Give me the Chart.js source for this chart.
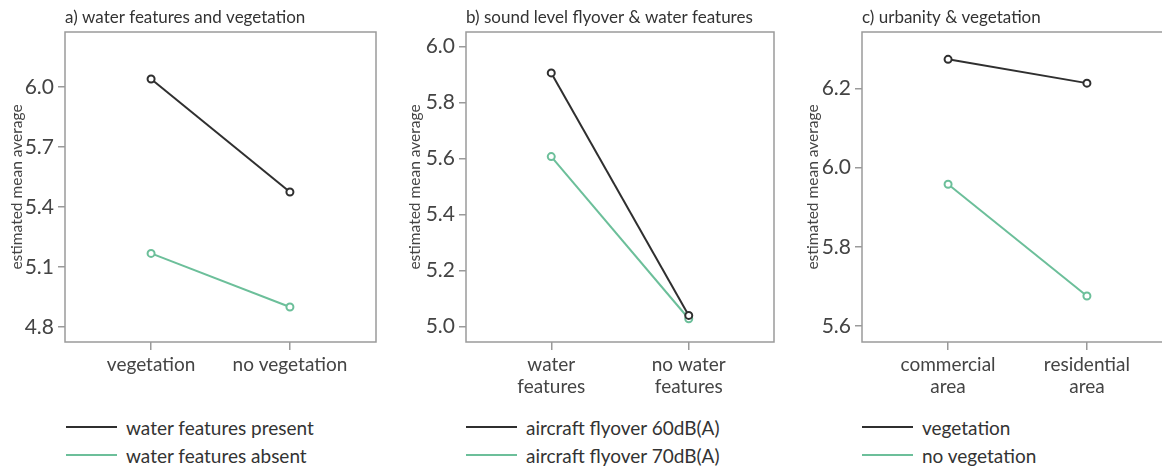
<!DOCTYPE html>
<html>
<head>
<meta charset="utf-8">
<script src="https://cdn.jsdelivr.net/npm/chart.js@4"></script>
<style>
  html, body { margin: 0; padding: 0; background: #fff; overflow: hidden; }
  body { width: 1162px; height: 468px; position: relative; font-family: Lato, sans-serif; }
  .panel { position: absolute; top: 0; height: 410px; }
  .legend { position: absolute; top: 413px; font-size: 19px; color: #333; }
  .legend .row { display: flex; align-items: center; height: 28px; }
  .legend .swatch { width: 51px; height: 2.5px; margin-right: 9px; }
</style>
</head>
<body>
  <div class="panel" style="left:0;width:390px"><canvas id="chartA"></canvas></div>
  <div class="panel" style="left:390px;width:390px"><canvas id="chartB"></canvas></div>
  <div class="panel" style="left:780px;width:410px"><canvas id="chartC"></canvas></div>
  <div class="legend" id="legendA" style="left:66px"></div>
  <div class="legend" id="legendB" style="left:466px"></div>
  <div class="legend" id="legendC" style="left:862px"></div>

<script>
// panel a) water features and vegetation
const catsA = ['vegetation', 'no vegetation'];
const presentA = [6.04, 5.475];
const absentA = [5.168, 4.90];
const ticksA = [4.8, 5.1, 5.4, 5.7, 6.0];

// panel b) sound level flyover & water features
const catsB = [['water', 'features'], ['no water', 'features']];
const flyover60 = [5.905, 5.039];
const flyover70 = [5.606, 5.027];
const ticksB = [5.0, 5.2, 5.4, 5.6, 5.8, 6.0];

// panel c) urbanity & vegetation
const catsC = [['commercial', 'area'], ['residential', 'area']];
const vegC = [6.273, 6.213];
const noVegC = [5.958, 5.676];
const ticksC = [5.6, 5.8, 6.0, 6.2];

const DARK = '#2f2f2f';
const GREEN = '#6cbf9a';
const AXIS = '#9a9a9a';
const FONT = 'Lato, sans-serif';

// title at the left edge of the plot + grey box round the plot
const frame = {
  id: 'frame',
  beforeDatasetsDraw(chart) {
    const { ctx, chartArea: a } = chart;
    ctx.save();
    ctx.strokeStyle = AXIS;
    ctx.lineWidth = 1.5;
    ctx.strokeRect(a.left, a.top, a.right - a.left, a.bottom - a.top);
    ctx.restore();
  },
  afterDraw(chart, args, opts) {
    const { ctx, chartArea: a } = chart;
    ctx.save();
    ctx.font = '17px ' + FONT;
    ctx.fillStyle = '#333';
    ctx.textBaseline = 'middle';
    ctx.fillText(opts.text, a.left, 18);
    ctx.restore();
  }
};

function toPoints(vals) {
  return vals.map((v, i) => ({ x: i, y: v }));
}

function makeChart(id, title, cats, series, yTicks, yMin, yMax, pad) {
  const datasets = series.map(s => ({
    label: s.label,
    data: toPoints(s.data),
    borderColor: s.color,
    backgroundColor: s.color,
    borderWidth: 2,
    pointRadius: 3.5,
    pointBorderWidth: 2,
    pointBackgroundColor: '#fff',
    pointBorderColor: s.color,
    fill: false
  }));

  new Chart(document.getElementById(id), {
    type: 'line',
    data: { datasets },
    options: {
      responsive: true,
      maintainAspectRatio: false,
      animation: false,
      layout: { padding: { left: pad.left, right: pad.right, top: 32, bottom: 0 } },
      plugins: {
        legend: { display: false },
        tooltip: { enabled: false },
        frame: { text: title }
      },
      scales: {
        x: {
          type: 'linear',
          min: -0.62,
          max: 1.62,
          afterBuildTicks: s => { s.ticks = cats.map((c, i) => ({ value: i })); },
          afterFit: s => { s.height = 68; },
          border: { display: false },
          grid: { drawOnChartArea: false, drawTicks: true, tickLength: 8, color: AXIS, lineWidth: 1.5 },
          ticks: {
            color: '#444',
            font: { family: FONT, size: 19, lineHeight: 1.2 },
            padding: 3,
            maxRotation: 0,
            callback: v => cats[v]
          }
        },
        y: {
          min: yMin,
          max: yMax,
          afterBuildTicks: s => { s.ticks = yTicks.map(v => ({ value: v })); },
          afterFit: s => { s.width = pad.axis; },
          border: { display: false },
          grid: { drawOnChartArea: false, drawTicks: true, tickLength: 7, color: AXIS, lineWidth: 1.5 },
          title: {
            display: true,
            text: 'estimated mean average',
            color: '#444',
            font: { family: FONT, size: 15.5 },
            padding: { top: 4, bottom: 0 }
          },
          ticks: {
            color: '#444',
            font: { family: FONT, size: 21 },
            padding: 4,
            callback: v => Number(v).toFixed(1)
          }
        }
      }
    },
    plugins: [frame]
  });

  const legend = document.getElementById(id.replace('chart', 'legend'));
  series.forEach(s => {
    const row = document.createElement('div');
    row.className = 'row';
    const sw = document.createElement('span');
    sw.className = 'swatch';
    sw.style.background = s.color;
    const txt = document.createElement('span');
    txt.textContent = s.label;
    row.appendChild(sw);
    row.appendChild(txt);
    legend.appendChild(row);
  });
}

makeChart('chartA', 'a) water features and vegetation', catsA, [
  { label: 'water features present', data: presentA, color: DARK },
  { label: 'water features absent', data: absentA, color: GREEN }
], ticksA, 4.725, 6.275, { left: 4, right: 14, axis: 61 });

makeChart('chartB', 'b) sound level flyover & water features', catsB, [
  { label: 'aircraft flyover 60dB(A)', data: flyover60, color: DARK },
  { label: 'aircraft flyover 70dB(A)', data: flyover70, color: GREEN }
], ticksB, 4.944, 6.051, { left: 12, right: 3, axis: 64 });

makeChart('chartC', 'c) urbanity & vegetation', catsC, [
  { label: 'vegetation', data: vegC, color: DARK },
  { label: 'no vegetation', data: noVegC, color: GREEN }
], ticksC, 5.56, 6.342, { left: 20, right: 17, axis: 62 });
</script>
</body>
</html>
